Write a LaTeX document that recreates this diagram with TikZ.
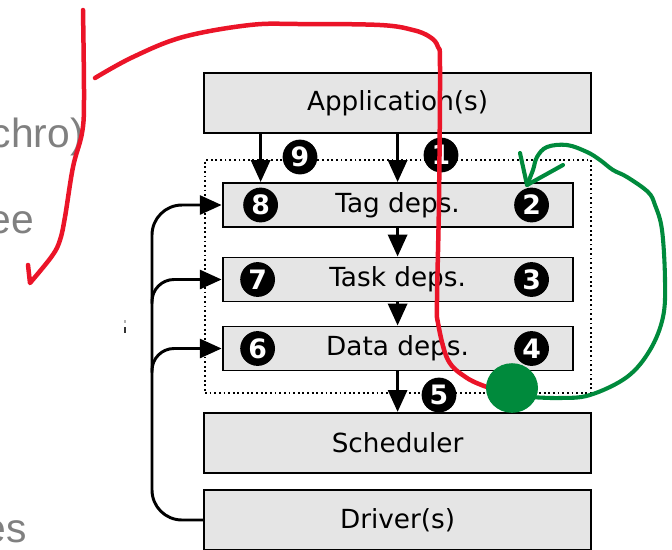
\documentclass[tikz,border=0pt]{standalone}
\usepackage{fontspec}
\setmainfont{DejaVu Sans}
\newfontfamily\slidefont{Liberation Sans}
\usepackage{xcolor}
\usepackage{tikz}
\usetikzlibrary{arrows.meta,positioning}

\definecolor{penred}{RGB}{235,20,40}
\definecolor{pengreen}{RGB}{0,138,60}

\begin{document}
\begin{tikzpicture}[
    >={Triangle[length=15.5pt,width=13.5pt]},
    layer/.style={draw=black,line width=1.6pt,fill=black!10,font=\fontsize{18.7}{22}\selectfont,minimum width=9.675cm,minimum height=1.5cm,inner sep=0pt},
    dep/.style={draw=black,line width=1.4pt,fill=black!10,font=\fontsize{18.7}{22}\selectfont,minimum width=8.75cm,minimum height=1.1cm,inner sep=0pt},
    num/.style={circle,fill=black,text=white,font=\bfseries\fontsize{19}{19}\selectfont,minimum size=0.87cm,inner sep=0pt},
    flow/.style={->,line width=2.1pt},
    slide/.style={text=black!50,font=\slidefont\fontsize{29}{32}\selectfont,inner sep=0pt,anchor=base east},
    redpen/.style={draw=penred,line width=3.2pt,line cap=round,line join=round},
    greenpen/.style={draw=pengreen,line width=2.9pt,line cap=round,line join=round}
  ]
    \path[use as bounding box,fill=white] (0,0) rectangle (16.8,-13.725);

    % slide text cut off on the left
    \node[slide] (t1) at (2.1,-3.675) {chro)};
    \node[slide] (t2) at (0.85,-5.825) {ee};
    \node[slide] (t3) at (0.675,-13.55) {es};
    \fill[black!30] (3.1,-8.0) rectangle (3.15,-8.075);
    \fill[black!80] (3.1,-8.175) rectangle (3.15,-8.325);

    \node[draw,dotted,line width=1.3pt,minimum width=9.65cm,minimum height=5.825cm] (core) at (9.95,-6.9125) {};

    \node[layer] (app) at (9.94,-2.575) {Application(s)};
    \node[dep] (tag) at (9.94,-5.125) {Tag deps.};
    \node[dep] (task) at (9.94,-6.9875) {Task deps.};
    \node[dep] (data) at (9.94,-8.7125) {Data deps.};
    \node[layer] (sched) at (9.94,-11.075) {Scheduler};
    \node[layer] (drv) at (9.94,-13.0) {Driver(s)};

    \node[num] (n9) at (7.5,-3.925) {9};
    \node[num] (n1) at (11.025,-3.875) {1};
    \node[num] (n8) at ([xshift=0.975cm]tag.west) {8};
    \node[num] (n2) at ([xshift=-1.05cm]tag.east) {2};
    \node[num] (n7) at ([xshift=0.9cm]task.west) {7};
    \node[num] (n3) at ([xshift=-1.05cm]task.east) {3};
    \node[num] (n6) at ([xshift=0.9cm]data.west) {6};
    \node[num] (n4) at ([xshift=-1.05cm]data.east) {4};
    \node[num] (n5) at (10.975,-9.875) {5};

    \draw[flow] (n8 |- app.south) -- (n8 |- tag.north);
    \draw[flow] (app.south) -- (tag.north);
    \draw[flow] (tag.south) -- (task.north);
    \draw[flow] (task.south) -- (data.north);
    \draw[flow] (data.south) -- (sched.north);

    % driver feedback
    \coordinate (trunk) at (3.8,0);
    \draw[flow,rounded corners=0.75cm] (drv.west) -| (trunk |- tag.west) -- (tag.west);
    \draw[flow,rounded corners=0.55cm] ([yshift=-0.6cm]trunk |- task.west) |- (task.west);
    \draw[flow,rounded corners=0.55cm] ([yshift=-0.6cm]trunk |- data.west) |- (data.west);

    % hand-drawn marks
    \draw[redpen] plot[smooth,tension=0.6] coordinates {(2.075,-0.25) (2.1,-2.5) (2.05,-3.325) (1.825,-4.175) (1.625,-5.425) (1.5,-6.0) (1.3,-6.4) (0.75,-7.075)} -- (0.7,-6.625);
    \draw[redpen] plot[smooth,tension=0.6] coordinates {(2.375,-1.95) (3.325,-1.425) (4.575,-0.925) (6.25,-0.625) (7.5,-0.6) (9.5,-0.625) (10.325,-0.75) (10.75,-0.925) (10.95,-1.175) (11.0,-1.675) (10.975,-5.0) (10.925,-7.5) (10.95,-8.075) (11.2,-9.0) (11.675,-9.45) (12.175,-9.675)};

    \fill[pengreen] (12.8,-9.7) ellipse [x radius=0.65cm,y radius=0.62cm];
    \draw[greenpen] plot[smooth,tension=0.6] coordinates {(13.25,-9.925) (14.0,-9.95) (14.75,-9.875) (15.675,-9.425) (16.25,-8.75) (16.575,-7.925) (16.625,-7.0) (16.55,-5.75) (16.375,-5.125) (16.2,-4.8) (15.675,-4.425) (15.325,-4.25) (15.0,-4.0) (14.675,-3.8) (14.175,-3.625) (13.675,-3.675) (13.425,-3.925) (13.325,-4.25) (13.175,-4.625)};
    \draw[greenpen] (13.0,-3.825) -- (13.175,-4.625) -- (14.075,-4.125);
\end{tikzpicture}
\end{document}
